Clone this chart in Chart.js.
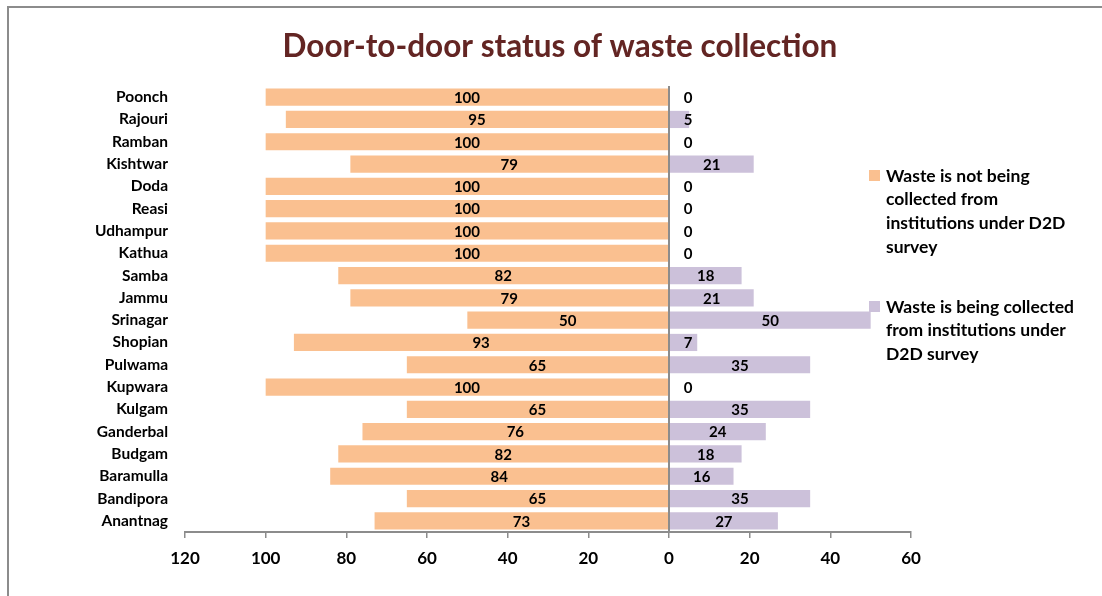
<!DOCTYPE html>
<html>
<head>
<meta charset="utf-8">
<title>Door-to-door status of waste collection</title>
<script src="https://cdn.jsdelivr.net/npm/chart.js@4/dist/chart.umd.min.js"></script>
<style>
  html, body { margin: 0; padding: 0; background: #fff; }
  #wrap { position: relative; width: 1102px; height: 596px; }
</style>
</head>
<body>
<div id="wrap"><canvas id="d2dChart" width="1102" height="596"></canvas></div>
<script>
/* ── Data ─────────────────────────────────────────────── */
const DISTRICTS = ['Poonch', 'Rajouri', 'Ramban', 'Kishtwar', 'Doda', 'Reasi', 'Udhampur', 'Kathua',
  'Samba', 'Jammu', 'Srinagar', 'Shopian', 'Pulwama', 'Kupwara', 'Kulgam', 'Ganderbal',
  'Budgam', 'Baramulla', 'Bandipora', 'Anantnag'];
const NOT_COLLECTED = [100, 95, 100, 79, 100, 100, 100, 100, 82, 79, 50, 93, 65, 100, 65, 76, 82, 84, 65, 73];
const COLLECTED     = [0, 5, 0, 21, 0, 0, 0, 0, 18, 21, 50, 7, 35, 0, 35, 24, 18, 16, 35, 27];
const X_TICKS = [-120, -100, -80, -60, -40, -20, 0, 20, 40, 60];

const SERIES_NAMES = [
  ['Waste is not being', 'collected from', 'institutions under D2D', 'survey'],
  ['Waste is being collected', 'from institutions under', 'D2D survey'],
];

const ORANGE = '#FAC090';
const PURPLE = '#CCC1DA';
const AXIS_GREY = '#8C8C8C';
const FONT = 'Lato, "Open Sans", sans-serif';

/* ── Plugins ──────────────────────────────────────────── */
// frame, title and wrapped legend drawn straight on the canvas
const decorPlugin = {
  id: 'decor',
  afterDraw(chart) {
    const ctx = chart.ctx;
    ctx.save();
    ctx.strokeStyle = AXIS_GREY;
    ctx.lineWidth = 2;
    ctx.beginPath();
    ctx.moveTo(8, 596);
    ctx.lineTo(8, 7);
    ctx.lineTo(1102, 7);
    ctx.stroke();

    ctx.fillStyle = '#632523';
    ctx.font = 'bold 31.5px ' + FONT;
    ctx.textAlign = 'center';
    ctx.textBaseline = 'middle';
    ctx.fillText('Door-to-door status of waste collection', 560, 47);

    const colors = [ORANGE, PURPLE];
    const tops = [176, 307];
    ctx.font = 'bold 17.5px ' + FONT;
    ctx.textAlign = 'left';
    SERIES_NAMES.forEach((lines, i) => {
      ctx.fillStyle = colors[i];
      ctx.fillRect(869, tops[i] - 6, 11, 11);
      ctx.fillStyle = '#000';
      lines.forEach((ln, j) => ctx.fillText(ln, 886, tops[i] + j * 23.7));
    });
    ctx.restore();
  }
};

// value labels centred in each bar, kept clear of the zero line
const valueLabels = {
  id: 'valueLabels',
  afterDatasetsDraw(chart) {
    const ctx = chart.ctx;
    const zero = chart.scales.x.getPixelForValue(0);
    ctx.save();
    ctx.font = 'bold 15px ' + FONT;
    ctx.fillStyle = '#000';
    ctx.textAlign = 'center';
    ctx.textBaseline = 'middle';
    chart.data.datasets.forEach((ds, di) => {
      chart.getDatasetMeta(di).data.forEach((bar, i) => {
        let x = (bar.x + bar.base) / 2;
        if (di === 1) x = Math.max(x, zero + 19);
        ctx.fillText(String(Math.abs(ds.data[i])), x, bar.y + 1);
      });
    });
    ctx.restore();
  }
};

/* ── Chart ────────────────────────────────────────────── */
new Chart(document.getElementById('d2dChart'), {
  type: 'bar',
  data: {
    labels: DISTRICTS,
    datasets: [
      { label: SERIES_NAMES[0].join(' '), data: NOT_COLLECTED.map(v => -v), backgroundColor: ORANGE,
        barPercentage: 0.77, categoryPercentage: 1 },
      { label: SERIES_NAMES[1].join(' '), data: COLLECTED, backgroundColor: PURPLE,
        barPercentage: 0.77, categoryPercentage: 1 },
    ],
  },
  options: {
    indexAxis: 'y',
    responsive: false, animation: false,
    layout: { padding: { top: 86, right: 191, left: 0, bottom: 0 } },
    plugins: { legend: { display: false }, title: { display: false }, tooltip: { enabled: false } },
    scales: {
      x: {
        stacked: true, min: -120, max: 60,
        afterBuildTicks: s => { s.ticks = X_TICKS.map(v => ({ value: v })); },
        afterFit: s => { s.height = 64; },
        grid: {
          display: true, drawOnChartArea: false, drawTicks: true, tickLength: 6,
          color: AXIS_GREY, lineWidth: 1.5,
        },
        border: { display: true, color: AXIS_GREY, width: 2 },
        ticks: {
          color: '#000', padding: 10,
          font: { family: FONT, size: 17, weight: 'bold' },
          callback: v => String(Math.abs(v)),
        },
      },
      y: {
        stacked: true,
        afterFit: s => { s.width = 185; },
        grid: { display: false },
        border: { display: false },
        ticks: { color: '#000', padding: 9, font: { family: FONT, size: 15.5, weight: 'bold' } },
      },
    },
  },
  plugins: [
    valueLabels,
    decorPlugin,
    {
      // vertical zero line through the plot
      id: 'zeroLine',
      afterDatasetsDraw(chart) {
        const { ctx, chartArea, scales } = chart;
        const x = scales.x.getPixelForValue(0);
        ctx.save();
        ctx.strokeStyle = AXIS_GREY;
        ctx.lineWidth = 2;
        ctx.beginPath();
        ctx.moveTo(x, chartArea.top);
        ctx.lineTo(x, chartArea.bottom);
        ctx.stroke();
        ctx.restore();
      }
    },
  ],
});
</script>
</body>
</html>
